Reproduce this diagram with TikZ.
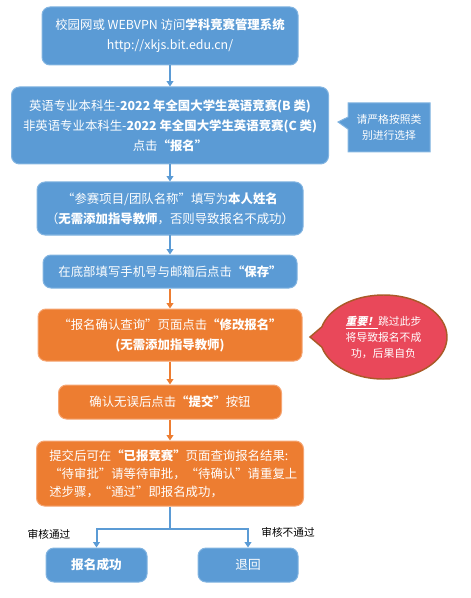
\documentclass[tikz,border=0pt]{standalone}
\usepackage{fontspec}
\setmainfont{Noto Sans CJK SC}
\newfontfamily\impfont{Noto Sans CJK SC}[FakeSlant=0.2]
\usetikzlibrary{arrows.meta,shapes.callouts}

\definecolor{flowblue}{RGB}{91,155,213}
\definecolor{blueedge}{RGB}{130,180,225}
\definecolor{floworange}{RGB}{237,125,49}
\definecolor{orangeedge}{RGB}{245,165,115}
\definecolor{warnred}{RGB}{233,72,90}
\definecolor{warnedge}{RGB}{170,90,40}

\tikzset{every picture/.style={line width=0.75pt}}
\tikzset{
  bluebox/.style={rectangle,rounded corners=6pt,fill=flowblue,draw=blueedge,
    text=white,align=center,inner sep=0pt,font=\fontsize{9.3}{15}\selectfont},
  orangebox/.style={bluebox,fill=floworange,draw=orangeedge},
  blueflow/.style={draw=flowblue,line width=1.5pt,-{Triangle[width=5pt,length=4pt]}},
  orangeflow/.style={blueflow,draw=floworange},
  notelabel/.style={inner sep=0pt,font=\fontsize{8}{10}\selectfont},
}

\begin{document}
\begin{tikzpicture}[x=0.75pt,y=0.75pt,yscale=-1,xscale=1]
    \useasboundingbox (0,0) rectangle (470,598);

    % Blue steps
    \node [bluebox,minimum width=192pt,minimum height=43.5pt] (sys) at (170,36)
      {校园网或 WEBVPN 访问\textbf{学科竞赛管理系统}\\http://xkjs.bit.edu.cn/};
    \node [bluebox,minimum width=237.75pt,minimum height=57.75pt] (sign) at (170,125.5)
      {英语专业本科生-\textbf{2022 年全国大学生英语竞赛(B 类)}\\
       非英语专业本科生-\textbf{2022 年全国大学生英语竞赛(C 类)}\\
       点击\textbf{“报名”}};
    \node [bluebox,minimum width=199.5pt,minimum height=39.75pt] (team) at (170,208.5)
      {“参赛项目/团队名称”填写为\textbf{本人姓名}\\
       （\textbf{无需添加指导教师}，否则导致报名不成功）};
    \node [bluebox,minimum width=190.5pt,minimum height=24.75pt] (save) at (170,271.5)
      {在底部填写手机号与邮箱后点击\textbf{“保存”}};

    % Orange steps
    \node [orangebox,minimum width=198pt,minimum height=39pt] (modify) at (170,335)
      {“报名确认查询”页面点击\textbf{“修改报名”}\\\textbf{(无需添加指导教师)}};
    \node [orangebox,minimum width=167.25pt,minimum height=25.5pt] (submit) at (170,402)
      {确认无误后点击\textbf{“提交”}按钮};
    \node [orangebox,minimum width=200.25pt,minimum height=48.75pt,
           text width=181pt,align=left,font=\fontsize{9.3}{13.5}\selectfont] (result) at (170,473.5)
      {提交后可在\textbf{“已报竞赛”}页面查询报名结果:\\
       “待审批”请等待审批，“待确认”请重复上\\
       述步骤，“通过”即报名成功，};

    % Outcomes
    \node [bluebox,minimum width=75.75pt,minimum height=25.5pt,font=\fontsize{9.5}{12}\selectfont] (ok) at (96.5,565) {\textbf{报名成功}};
    \node [bluebox,minimum width=75pt,minimum height=25.5pt,font=\fontsize{9.5}{12}\selectfont] (back) at (248,565) {退回};

    % Callouts
    \coordinate (tiptip) at (338,122);
    \node [rectangle callout,callout absolute pointer={(tiptip)},callout pointer width=9pt,
           fill=flowblue,draw=blueedge,text=white,align=center,inner sep=0pt,
           minimum width=61.5pt,minimum height=36.75pt,font=\fontsize{8.1}{12}\selectfont] (tip) at (389,127.5)
      {请严格按照类\\别进行选择};
    \coordinate (warntip) at (310,337);
    \node [ellipse callout,callout absolute pointer={(warntip)},callout pointer arc=28,
           fill=warnred,draw=warnedge,line width=1.1pt,text=white,align=center,inner sep=0pt,
           minimum width=95.25pt,minimum height=63pt,font=\fontsize{8.1}{12}\selectfont] (warn) at (383.5,337)
      {\underline{\impfont\bfseries 重要！}跳过此步\\将导致报名不成\\功，后果自负};

    % Connectors
    \draw [blueflow] (sys) -- (sign);
    \draw [blueflow] (sign) -- (team);
    \draw [blueflow] (team) -- (save);
    \draw [orangeflow] (save) -- (modify);
    \draw [orangeflow] (modify) -- (submit);
    \draw [orangeflow] (submit) -- (result);
    \coordinate (split) at (170,529);
    \draw [draw=flowblue,line width=1.5pt] (result) -- (split);
    \draw [blueflow] (split) -| (ok);
    \draw [blueflow] (split) -| (back);

    % Text Node
    \node [notelabel] (passlbl) at (49,534) {审核通过};
    % Text Node
    \node [notelabel] (faillbl) at (288,532) {审核不通过};

\end{tikzpicture}
\end{document}
